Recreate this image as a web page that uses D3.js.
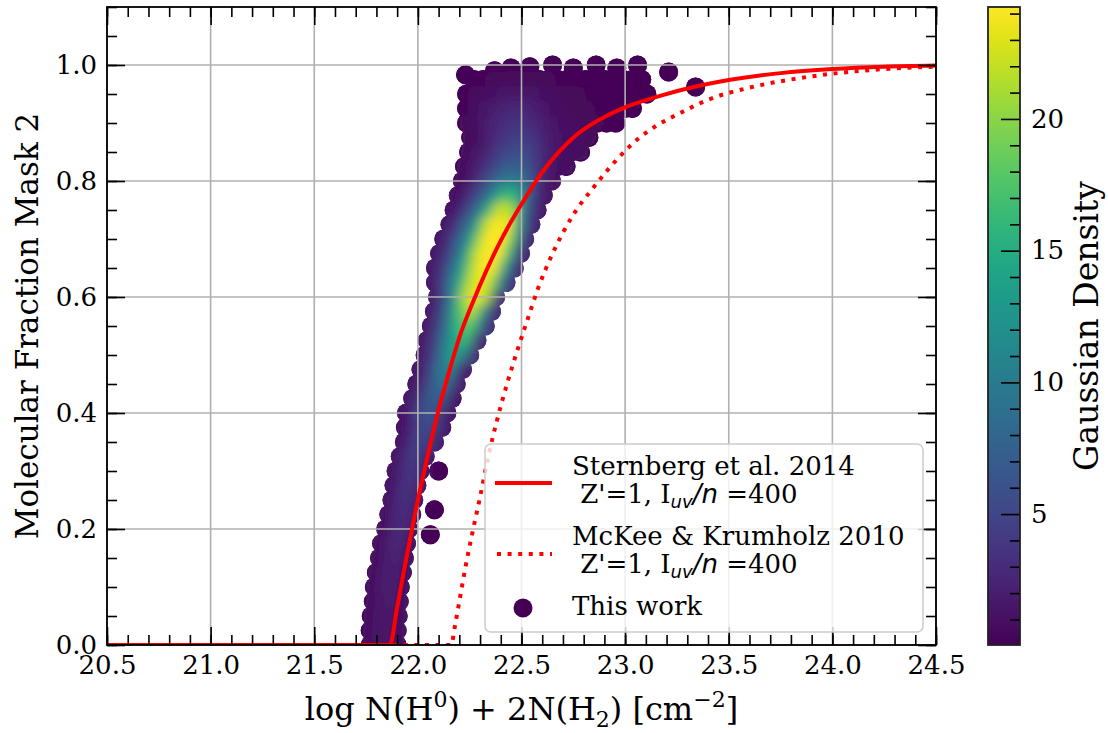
<!DOCTYPE html>
<html>
<head>
<meta charset="utf-8">
<script src="https://cdn.jsdelivr.net/npm/d3@7"></script>
<style>
  body { margin: 0; background: #fff; }
  text { font-family: "DejaVu Serif", serif; fill: #000; }
</style>
</head>
<body>
<svg id="chart" width="1108" height="733"></svg>
<script>
// ---- data ----
const xTicks = [20.5, 21.0, 21.5, 22.0, 22.5, 23.0, 23.5, 24.0, 24.5];
const yTicks = [0.0, 0.2, 0.4, 0.6, 0.8, 1.0];
const cTicks = [5, 10, 15, 20];
const cRange = [0.03, 24.25];

// Sternberg et al. 2014 curve  [log N, f_H2]
const sternberg = [[20.5,0],[21.865,0],[21.9,0.065],[21.95,0.16],[22.0,0.25],[22.05,0.33],[22.1,0.405],
  [22.15,0.47],[22.2,0.53],[22.27,0.595],[22.33,0.645],[22.38,0.683],[22.45,0.73],[22.5,0.76],[22.6,0.815],
  [22.76,0.878],[22.92,0.914],[23.0,0.927],[23.16,0.946],[23.33,0.962],[23.5,0.974],[23.75,0.986],
  [24.0,0.993],[24.25,0.997],[24.5,0.999]];

// McKee & Krumholz 2010 curve
const mckee = [[20.5,0],[22.16,0],[22.18,0.035],[22.2,0.075],[22.23,0.135],[22.27,0.205],[22.3,0.255],
  [22.34,0.325],[22.38,0.385],[22.43,0.45],[22.48,0.508],[22.53,0.562],[22.58,0.615],[22.65,0.675],
  [22.75,0.742],[22.85,0.79],[22.95,0.833],[23.06,0.872],[23.15,0.895],[23.27,0.918],[23.4,0.94],
  [23.6,0.961],[23.8,0.975],[24.0,0.985],[24.25,0.993],[24.5,0.997]];

// "This work" points  [log N, f_H2, gaussian density]
const dots = [
  [21.77,0,0.6],[21.815,0,1.2],[21.86,0,1.3],[21.90,0,0.7],
  [21.77,0.025,0.6],[21.815,0.025,1.3],[21.86,0.025,1.4],[21.90,0.025,0.7],
  [21.775,0.05,0.6],[21.82,0.05,1.4],[21.865,0.05,1.6],[21.905,0.05,0.8],
  [21.785,0.075,0.7],[21.83,0.075,1.6],[21.87,0.075,1.8],[21.91,0.075,0.8],
  [21.79,0.1,0.7],[21.835,0.1,1.8],[21.88,0.1,2.0],[21.915,0.1,0.9],
  [21.80,0.125,0.7],[21.845,0.125,1.9],[21.89,0.125,2.1],[21.925,0.125,0.9],
  [21.815,0.15,0.8],[21.86,0.15,2.0],[21.90,0.15,2.3],[21.935,0.15,1.0],
  [21.825,0.175,0.8],[21.87,0.175,2.2],[21.91,0.175,2.5],[21.945,0.175,1.0],
  [21.845,0.2,0.9],[21.89,0.2,2.4],[21.93,0.2,2.7],[21.955,0.2,1.1],[22.06,0.19,0.3],
  [21.86,0.225,0.9],[21.90,0.225,2.6],[21.94,0.225,2.9],[21.97,0.225,1.2],[22.08,0.233,0.3],
  [21.875,0.25,1.0],[21.915,0.25,2.8],[21.95,0.25,3.2],[21.98,0.25,1.3],
  [21.885,0.275,1.0],[21.925,0.275,3.0],[21.965,0.275,3.5],[21.995,0.275,1.4],
  [21.895,0.3,1.0],[21.94,0.3,3.2],[21.98,0.3,3.8],[22.01,0.3,1.5],[22.10,0.3,0.3],
  [21.915,0.325,1.1],[21.955,0.325,3.4],[21.995,0.325,4.2],[22.035,0.325,1.6],
  [21.935,0.35,1.1],[21.975,0.35,3.2],[22.015,0.35,4.8],[22.05,0.35,4.0],[22.08,0.35,1.2],
  [21.94,0.375,1.1],[21.985,0.375,3.0],[22.03,0.375,5.5],[22.075,0.375,4.5],[22.115,0.375,1.2],
  [21.945,0.4,1.1],[21.99,0.4,3.2],[22.035,0.4,6.0],[22.08,0.4,6.0],[22.14,0.4,1.3],
  [21.975,0.425,1.2],[22.02,0.425,4.0],[22.065,0.425,7.0],[22.11,0.425,7.0],[22.165,0.425,1.3],
  [21.995,0.45,1.2],[22.04,0.45,3.5],[22.085,0.45,7.5],[22.13,0.45,9.0],[22.185,0.45,2.0],
  [22.015,0.475,1.2],[22.06,0.475,4.0],[22.105,0.475,8.5],[22.15,0.475,11],[22.215,0.475,2.0],
  [22.035,0.5,1.3],[22.08,0.5,4.5],[22.125,0.5,9],[22.17,0.5,14],[22.215,0.5,9],[22.25,0.5,2],
  [22.045,0.525,1.3],[22.09,0.525,4.5],[22.135,0.525,9],[22.18,0.525,14],[22.225,0.525,16],[22.285,0.525,2.5],
  [22.065,0.55,1.3],[22.11,0.55,5],[22.155,0.55,10],[22.20,0.55,16],[22.245,0.55,18],[22.29,0.55,9],[22.325,0.55,2],
  [22.08,0.575,1.4],[22.125,0.575,5.5],[22.17,0.575,11],[22.215,0.575,18],[22.26,0.575,21],[22.305,0.575,12],[22.355,0.575,2.5],
  [22.095,0.6,1.4],[22.14,0.6,6],[22.185,0.6,12],[22.23,0.6,20.5],[22.275,0.6,23.5],[22.32,0.6,21],[22.375,0.6,3],
  [22.085,0.625,1.3],[22.13,0.625,5],[22.175,0.625,10],[22.22,0.625,16],[22.265,0.625,22],[22.31,0.625,23.5],
  [22.355,0.625,19],[22.40,0.625,7],[22.425,0.625,2],
  [22.085,0.65,1.2],[22.13,0.65,4],[22.175,0.65,8],[22.22,0.65,13],[22.265,0.65,20],[22.31,0.65,24],
  [22.355,0.65,23.5],[22.40,0.65,15],[22.445,0.65,5],[22.465,0.65,1.5],
  [22.105,0.675,1.2],[22.15,0.675,4],[22.195,0.675,8],[22.24,0.675,13],[22.285,0.675,21],[22.33,0.675,24.2],
  [22.375,0.675,24.2],[22.42,0.675,18],[22.465,0.675,6],[22.495,0.675,1.5],
  [22.125,0.7,1.2],[22.17,0.7,4],[22.215,0.7,8],[22.26,0.7,12.5],[22.305,0.7,20],[22.35,0.7,24.2],
  [22.395,0.7,24.2],[22.44,0.7,19],[22.485,0.7,7],[22.515,0.7,1.5],
  [22.155,0.725,1.2],[22.20,0.725,4],[22.245,0.725,8],[22.29,0.725,12],[22.335,0.725,21],[22.38,0.725,24],
  [22.425,0.725,23.5],[22.47,0.725,15],[22.515,0.725,5],[22.545,0.725,1.5],
  [22.175,0.75,1.0],[22.22,0.75,3.0],[22.265,0.75,6],[22.31,0.75,10],[22.355,0.75,16],[22.40,0.75,22],
  [22.445,0.75,21],[22.49,0.75,11],[22.535,0.75,4.5],[22.575,0.75,1.5],
  [22.195,0.775,0.9],[22.24,0.775,2.2],[22.285,0.775,4.5],[22.33,0.775,7.5],[22.375,0.775,11],[22.42,0.775,16],
  [22.465,0.775,15],[22.51,0.775,9],[22.555,0.775,4],[22.605,0.775,1.3],
  [22.215,0.8,0.8],[22.26,0.8,1.5],[22.305,0.8,3.5],[22.35,0.8,6],[22.395,0.8,8.5],[22.44,0.8,10],
  [22.485,0.8,9.5],[22.53,0.8,6.5],[22.575,0.8,3],[22.62,0.8,1.4],[22.645,0.8,0.9],
  [22.225,0.825,0.7],[22.27,0.825,1.4],[22.315,0.825,2.5],[22.36,0.825,4.2],[22.405,0.825,6],[22.45,0.825,7.2],
  [22.495,0.825,7],[22.54,0.825,5],[22.585,0.825,2.6],[22.63,0.825,1.5],[22.675,0.825,1.0],[22.715,0.825,0.8],
  [22.245,0.85,0.6],[22.29,0.85,1.2],[22.335,0.85,2.2],[22.38,0.85,3.5],[22.425,0.85,4.8],[22.47,0.85,5.6],
  [22.515,0.85,5.2],[22.56,0.85,3.8],[22.605,0.85,2.2],[22.65,0.85,1.4],[22.695,0.85,1.0],[22.74,0.85,0.8],[22.785,0.85,0.6],
  [22.255,0.875,0.5],[22.30,0.875,1.1],[22.345,0.875,1.8],[22.39,0.875,2.8],[22.435,0.875,3.8],[22.48,0.875,4.3],
  [22.525,0.875,4],[22.57,0.875,3],[22.615,0.875,2],[22.66,0.875,1.3],[22.705,0.875,1.0],[22.75,0.875,0.8],
  [22.795,0.875,0.6],[22.825,0.875,0.5],
  [22.235,0.9,0.5],[22.28,0.9,1.0],[22.325,0.9,1.5],[22.37,0.9,2.3],[22.415,0.9,3.0],[22.46,0.9,3.4],
  [22.505,0.9,3.3],[22.55,0.9,2.6],[22.595,0.9,1.9],[22.64,0.9,1.3],[22.685,0.9,1.0],[22.73,0.9,0.8],
  [22.775,0.9,0.6],[22.82,0.9,0.5],[22.865,0.9,0.45],[22.91,0.9,0.4],[22.955,0.9,0.35],
  [22.235,0.925,0.4],[22.28,0.925,0.8],[22.325,0.925,1.2],[22.37,0.925,1.7],[22.415,0.925,2.2],[22.46,0.925,2.5],
  [22.505,0.925,2.5],[22.55,0.925,2.1],[22.595,0.925,1.5],[22.64,0.925,1.1],[22.685,0.925,0.8],[22.73,0.925,0.6],
  [22.775,0.925,0.5],[22.82,0.925,0.45],[22.865,0.925,0.4],[22.91,0.925,0.35],[22.955,0.925,0.35],[23.0,0.925,0.3],[23.035,0.925,0.3],
  [22.235,0.95,0.35],[22.28,0.95,0.6],[22.325,0.95,0.8],[22.37,0.95,1.0],[22.415,0.95,1.2],[22.46,0.95,1.4],
  [22.505,0.95,1.4],[22.55,0.95,1.2],[22.595,0.95,1.0],[22.64,0.95,0.8],[22.685,0.95,0.6],[22.73,0.95,0.5],
  [22.775,0.95,0.45],[22.82,0.95,0.4],[22.865,0.95,0.35],[22.91,0.95,0.35],[22.955,0.95,0.3],[23.0,0.95,0.3],
  [23.05,0.95,0.25],[23.105,0.95,0.2],
  [22.27,0.975,0.3],[22.315,0.975,0.4],[22.36,0.975,0.5],[22.405,0.975,0.55],[22.45,0.975,0.6],[22.495,0.975,0.6],
  [22.54,0.975,0.55],[22.585,0.975,0.5],[22.63,0.975,0.45],[22.675,0.975,0.4],[22.72,0.975,0.35],[22.765,0.975,0.3],
  [22.81,0.975,0.3],[22.855,0.975,0.25],[22.90,0.975,0.25],[22.945,0.975,0.2],[22.99,0.975,0.2],[23.035,0.975,0.2],[23.08,0.975,0.2],
  [22.23,0.983,0.2],[22.37,0.99,0.3],[22.45,0.995,0.35],[22.54,0.997,0.35],[22.65,1.0,0.3],[22.75,0.995,0.25],
  [22.86,1.0,0.2],[22.96,0.995,0.2],[23.06,1.0,0.15],[23.21,0.988,0.1],[23.34,0.962,0.1]
];

// ---- layout ----
const W = 1108, H = 733;
const m = { left: 107, right: 936, top: 7, bottom: 645 };
const cb = { left: 988, right: 1020 };
const R = 9.5;   // marker radius

const x = d3.scaleLinear().domain([20.5, 24.5]).range([m.left, m.right]);
const y = d3.scaleLinear().domain([0, 1.1]).range([m.bottom, m.top]);
const c = d3.scaleLinear().domain(cRange).range([m.bottom, m.top]);
const color = d3.scaleSequential(d3.interpolateViridis).domain(cRange);

const svg = d3.select("#chart");
const defs = svg.append("defs");

defs.append("clipPath").attr("id", "plotClip")
  .append("rect")
  .attr("x", m.left).attr("y", m.top)
  .attr("width", m.right - m.left).attr("height", m.bottom - m.top);

const sorted = dots.slice().sort((a, b) => a[2] - b[2]);

// clip made of the markers themselves, so the smoothed layer keeps the bumpy outline
defs.append("clipPath").attr("id", "cloudClip")
  .selectAll("circle").data(dots).join("circle")
  .attr("cx", d => x(d[0])).attr("cy", d => y(d[1])).attr("r", R);

const soft = defs.append("filter").attr("id", "soft")
  .attr("filterUnits", "userSpaceOnUse")
  .attr("x", 0).attr("y", 0).attr("width", W).attr("height", H);
soft.append("feGaussianBlur").attr("stdDeviation", 5.5);
soft.append("feComponentTransfer")      // keep the smoothed colours opaque up to the outline
  .append("feFuncA").attr("type", "linear").attr("slope", 4).attr("intercept", 0);

// ---- scatter (lowest zorder) ----
const sc = svg.append("g").attr("clip-path", "url(#plotClip)");
sc.append("g").selectAll("circle").data(sorted).join("circle")
  .attr("cx", d => x(d[0])).attr("cy", d => y(d[1])).attr("r", R)
  .attr("fill", d => color(d[2]));
sc.append("g").attr("clip-path", "url(#cloudClip)")
  .append("g").attr("filter", "url(#soft)")
  .selectAll("circle").data(sorted).join("circle")
  .attr("cx", d => x(d[0])).attr("cy", d => y(d[1])).attr("r", 8.5)
  .attr("fill", d => color(d[2]));

// ---- grid (drawn over the scatter, like matplotlib) ----
const grid = svg.append("g").attr("stroke", "#b0b0b0").attr("stroke-width", 1.6);
grid.selectAll("line.gx").data(xTicks).join("line").attr("class", "gx")
  .attr("x1", d => x(d)).attr("x2", d => x(d)).attr("y1", m.top).attr("y2", m.bottom);
grid.selectAll("line.gy").data(yTicks).join("line").attr("class", "gy")
  .attr("y1", d => y(d)).attr("y2", d => y(d)).attr("x1", m.left).attr("x2", m.right);

// ---- model curves ----
const line = d3.line().x(d => x(d[0])).y(d => y(d[1])).curve(d3.curveMonotoneX);
const curves = svg.append("g").attr("clip-path", "url(#plotClip)").attr("fill", "none");
curves.append("path").datum(mckee).attr("d", line)
  .attr("stroke", "#ff0000").attr("stroke-width", 4).attr("stroke-dasharray", "4,6.6");
curves.append("path").datum(sternberg).attr("d", line)
  .attr("stroke", "#ff0000").attr("stroke-width", 4);

// ---- axes: inward ticks on all four sides ----
function styleAxis(g, lab) {
  g.select(".domain").remove();
  g.selectAll(".tick line").attr("stroke", "#000").attr("stroke-width", 1.6);
  g.selectAll(".tick text").attr("font-size", 26).attr("font-family", "DejaVu Serif").attr("fill", "#000");
  if (!lab) g.selectAll(".tick text").remove();
}
const fmt = d3.format(".1f");
const xMinor = x.ticks(40), yMinor = y.ticks(22);

svg.append("g").attr("transform", `translate(0,${m.bottom})`)
  .call(d3.axisBottom(x).tickValues(xMinor).tickSize(-10)).call(g => styleAxis(g, false));
svg.append("g").attr("transform", `translate(0,${m.bottom})`)
  .call(d3.axisBottom(x).tickValues(xTicks).tickFormat(fmt).tickSize(-18).tickPadding(11)).call(g => styleAxis(g, true));
svg.append("g").attr("transform", `translate(0,${m.top})`)
  .call(d3.axisTop(x).tickValues(xMinor).tickSize(-10)).call(g => styleAxis(g, false));
svg.append("g").attr("transform", `translate(0,${m.top})`)
  .call(d3.axisTop(x).tickValues(xTicks).tickSize(-18)).call(g => styleAxis(g, false));

svg.append("g").attr("transform", `translate(${m.left},0)`)
  .call(d3.axisLeft(y).tickValues(yMinor).tickSize(-10)).call(g => styleAxis(g, false));
svg.append("g").attr("transform", `translate(${m.left},0)`)
  .call(d3.axisLeft(y).tickValues(yTicks).tickFormat(fmt).tickSize(-18).tickPadding(10)).call(g => styleAxis(g, true));
svg.append("g").attr("transform", `translate(${m.right},0)`)
  .call(d3.axisRight(y).tickValues(yMinor).tickSize(-10)).call(g => styleAxis(g, false));
svg.append("g").attr("transform", `translate(${m.right},0)`)
  .call(d3.axisRight(y).tickValues(yTicks).tickSize(-18)).call(g => styleAxis(g, false));

svg.append("rect")
  .attr("x", m.left).attr("y", m.top)
  .attr("width", m.right - m.left).attr("height", m.bottom - m.top)
  .attr("fill", "none").attr("stroke", "#000").attr("stroke-width", 1.8);

// axis labels
svg.append("text")
  .attr("transform", `translate(38,${(m.top + m.bottom) / 2}) rotate(-90)`)
  .attr("text-anchor", "middle").attr("font-size", 31)
  .text("Molecular Fraction Mask 2");

const xl = svg.append("text")
  .attr("x", (m.left + m.right) / 2).attr("y", 720)
  .attr("text-anchor", "middle").attr("font-size", 32);
xl.append("tspan").text("log N(H");
xl.append("tspan").attr("font-size", 22).attr("dy", -13).text("0");
xl.append("tspan").attr("dy", 13).text(") + 2N(H");
xl.append("tspan").attr("font-size", 22).attr("dy", 7).text("2");
xl.append("tspan").attr("dy", -7).text(") [cm");
xl.append("tspan").attr("font-size", 22).attr("dy", -13).text("\u22122");
xl.append("tspan").attr("dy", 13).text("]");

// ---- legend ----
const lg = svg.append("g");
lg.append("rect")
  .attr("x", 485).attr("y", 444).attr("width", 438).attr("height", 188).attr("rx", 6)
  .attr("fill", "#fff").attr("fill-opacity", 0.8)
  .attr("stroke", "#cccccc").attr("stroke-width", 1.5);

lg.append("line").attr("x1", 495).attr("x2", 552).attr("y1", 483).attr("y2", 483)
  .attr("stroke", "#ff0000").attr("stroke-width", 4);
lg.append("line").attr("x1", 497).attr("x2", 552).attr("y1", 554).attr("y2", 554)
  .attr("stroke", "#ff0000").attr("stroke-width", 4).attr("stroke-dasharray", "4,6.6");
lg.append("circle").attr("cx", 523).attr("cy", 608).attr("r", R).attr("fill", color(cRange[0]));

function legendText(txt, yy) {
  lg.append("text").attr("x", 572).attr("y", yy).attr("font-size", 26).text(txt);
}
function paramText(yy) {
  const t = lg.append("text").attr("x", 572).attr("y", yy).attr("font-size", 26)
    .style("white-space", "pre");
  t.append("tspan").text(" Z'=1, I");
  t.append("tspan").attr("font-family", "DejaVu Sans").attr("font-style", "italic")
    .attr("font-size", 18).attr("dy", 5).text("uv");
  t.append("tspan").attr("font-family", "DejaVu Sans").attr("font-style", "italic")
    .attr("dy", -5).text("/n");
  t.append("tspan").text(" =400");
}
legendText("Sternberg et al. 2014", 475);
paramText(503);
legendText("McKee & Krumholz 2010", 545);
paramText(573);
legendText("This work", 615);

// ---- colorbar ----
const grad = defs.append("linearGradient").attr("id", "viridis")
  .attr("x1", 0).attr("y1", 1).attr("x2", 0).attr("y2", 0);
grad.selectAll("stop").data(d3.range(0, 1.0001, 0.05)).join("stop")
  .attr("offset", d => d).attr("stop-color", d => d3.interpolateViridis(d));

svg.append("rect")
  .attr("x", cb.left).attr("y", m.top)
  .attr("width", cb.right - cb.left).attr("height", m.bottom - m.top)
  .attr("fill", "url(#viridis)");

svg.append("g").attr("transform", `translate(${cb.right},0)`)
  .call(d3.axisRight(c).tickValues(c.ticks(24).filter(v => v % 5 !== 0)).tickSize(-10))
  .call(g => styleAxis(g, false));
svg.append("g").attr("transform", `translate(${cb.right},0)`)
  .call(d3.axisRight(c).tickValues(cTicks).tickSize(-19).tickPadding(11))
  .call(g => styleAxis(g, true));

svg.append("rect")
  .attr("x", cb.left).attr("y", m.top)
  .attr("width", cb.right - cb.left).attr("height", m.bottom - m.top)
  .attr("fill", "none").attr("stroke", "#222").attr("stroke-width", 1.8);

svg.append("text")
  .attr("transform", `translate(1098,${(m.top + m.bottom) / 2}) rotate(-90)`)
  .attr("text-anchor", "middle").attr("font-size", 33)
  .text("Gaussian Density");
</script>
</body>
</html>
